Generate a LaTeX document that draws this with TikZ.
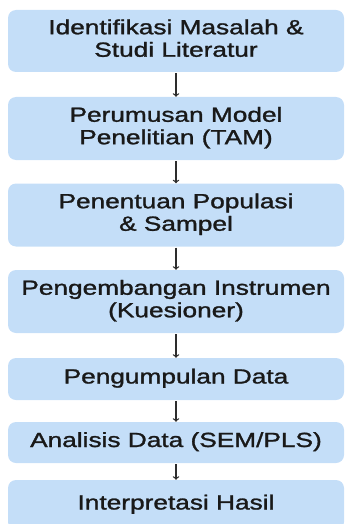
\documentclass[tikz,border=0pt]{standalone}
\usepackage{fontspec}
\setmainfont{Liberation Sans}[FakeBold=1.2]
\definecolor{boxblue}{RGB}{196,222,248}
\definecolor{arrowgray}{RGB}{45,45,45}
\newcommand{\widetext}[1]{\scalebox{1.28}[1]{\begin{tabular}{@{}c@{}}#1\end{tabular}}}

\begin{document}
\begin{tikzpicture}[x=1pt, y=-1pt]
\tikzstyle{stage box}=[rectangle, rounded corners=8pt, fill=boxblue, minimum width=336pt, inner sep=0pt, text=black!90, font=\fontsize{20.5}{22.5}\selectfont]
\tikzstyle{two line}=[stage box, minimum height=63pt]
\tikzstyle{one line}=[stage box, minimum height=41pt]
\tikzstyle{link}=[->, arrowgray, line width=1.3pt, shorten <=1pt]

\useasboundingbox (0,0) rectangle (345,524);
\clip (0,0) rectangle (345,524);

% Draw the stages, top to bottom
\node[two line, minimum height=62pt] (identifikasi) at (176, 41) {\widetext{Identifikasi Masalah \&\\Studi Literatur}};
\node[two line] (perumusan) at (176, 128.5) {\widetext{Perumusan Model\\Penelitian (TAM)}};
\node[two line] (penentuan) at (176, 215) {\widetext{Penentuan Populasi\\\& Sampel}};
\node[two line] (instrumen) at (176, 301.5) {\widetext{Pengembangan Instrumen\\(Kuesioner)}};
\node[one line, minimum height=42pt] (pengumpulan) at (176, 379) {\widetext{Pengumpulan Data}};
\node[one line] (analisis) at (176, 442.5) {\widetext{Analisis Data (SEM/PLS)}};
\node[one line, minimum height=50pt] (interpretasi) at (176, 505) {\widetext{Interpretasi Hasil}};

% Draw the arrows between stages
\draw [link] (identifikasi) -- (perumusan);
\draw [link] (perumusan) -- (penentuan);
\draw [link] (penentuan) -- (instrumen);
\draw [link] (instrumen) -- (pengumpulan);
\draw [link] (pengumpulan) -- (analisis);
\draw [link] (analisis) -- (interpretasi);

\end{tikzpicture}
\end{document}
